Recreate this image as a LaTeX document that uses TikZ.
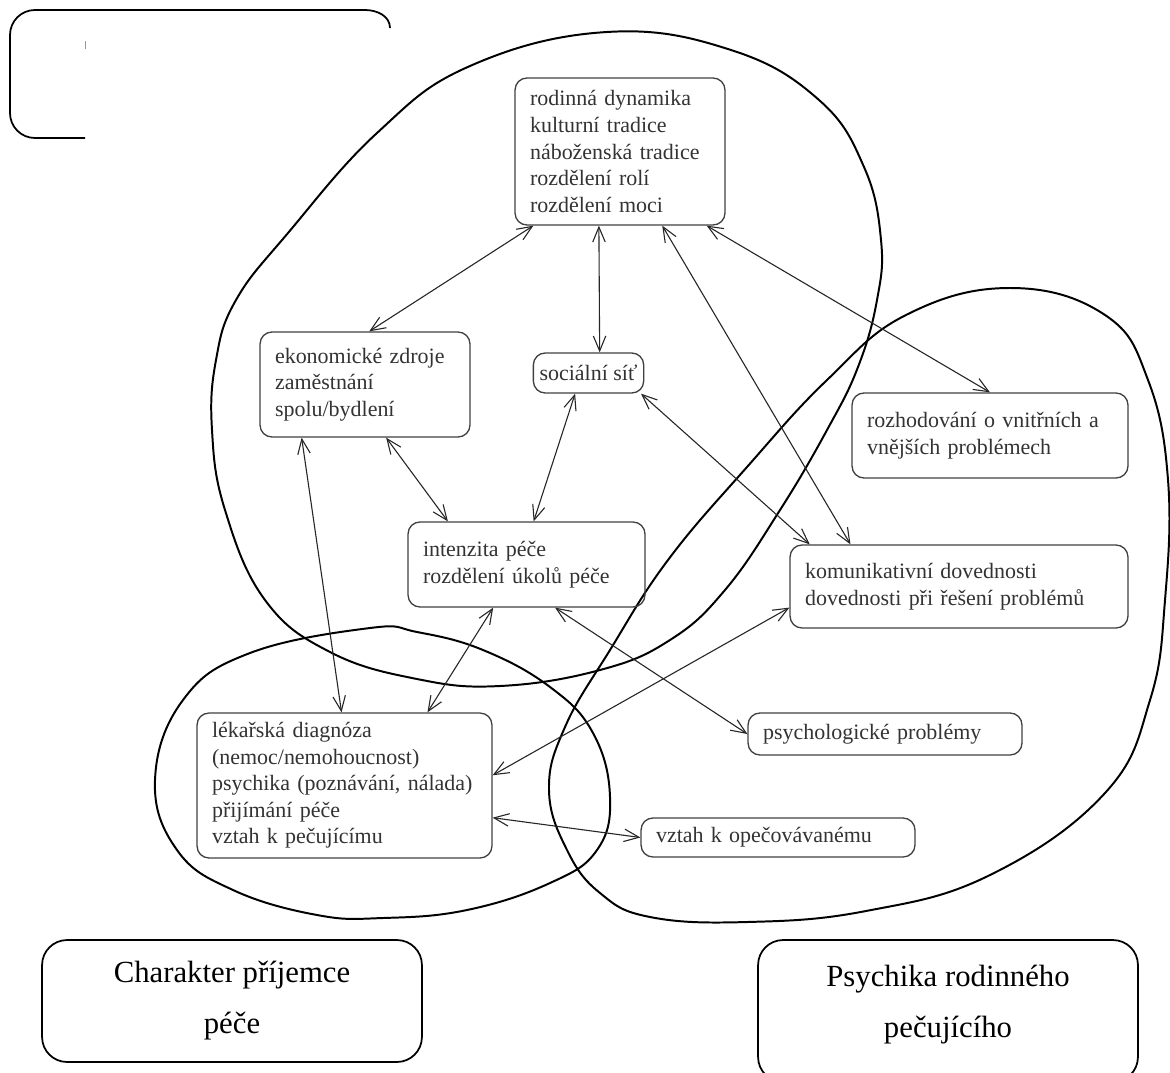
\documentclass[tikz,border=0pt]{standalone}
\usepackage{fontspec}
\setmainfont{Liberation Serif}
\usetikzlibrary{arrows.meta,calc}
\begin{document}
\begin{tikzpicture}[x=0.016cm,y=-0.016cm,
  box/.style={draw=black!75,line width=0.6pt,rounded corners=0.19cm,align=left,inner xsep=0.24cm,inner ysep=0pt,text=black!80,font=\fontsize{10}{12.1}\selectfont},
  bigbox/.style={draw,line width=0.8pt,rounded corners=0.4cm,align=center,minimum width=6.08cm,minimum height=1.952cm,font=\fontsize{14}{23.2}\selectfont},
  link/.style={<->,line width=0.5pt,black!85},
  blob/.style={line width=0.9pt},
  >={Straight Barb[length=2.4mm,width=2mm]}]
\useasboundingbox (0,0) rectangle (1170,1072);
\draw[blob] plot[smooth cycle,tension=0.7] coordinates {(607,32) (731,50) (819,100) (864,167) (881,240) (877,300) (858,367) (827,430) (780,510) (725,590) (670,640) (600,670) (500,686) (417,679) (330,652) (265,600) (225,510) (212,430) (216,360) (236,300) (288,233) (377,133) (470,66)};
\draw[blob] plot[smooth cycle,tension=0.7] coordinates {(370,628) (417,632) (483,650) (550,687) (593,733) (610,797) (597,850) (550,883) (467,910) (383,918) (317,915) (233,890) (177,850) (155,780) (183,700) (250,653)};
\draw[blob] plot[smooth cycle,tension=0.7] coordinates {(1010,288) (1105,315) (1148,380) (1168,480) (1165,600) (1150,700) (1105,793) (990,875) (866,911) (747,922) (650,917) (600,893) (567,850) (549,790) (565,727) (610,650) (668,560) (747,467) (827,380) (906,315)};
\draw[line width=0.8pt] (85,138) -- (35,138) to[out=180,in=-90] (10,113) -- (10,35) to[out=90,in=180] (35,10) -- (365,10) to[out=0,in=90] (390,28);
\draw[black!40,line width=0.4pt] (85,41) -- (85,49);
\node[box,text width=2.88cm,minimum height=2.352cm] (rod) at (620,151.5) {rodinná dynamika\\kulturní tradice\\náboženská tradice\\rozdělení rolí\\rozdělení moci};
\node[box,text width=2.88cm,minimum height=1.68cm] (eko) at (365,384.5) {ekonomické zdroje\\zaměstnání\\spolu/bydlení};
\node[box,inner xsep=0.1cm,minimum width=1.712cm,minimum height=0.64cm] (soc) at (588.5,373) {sociální síť};
\node[box,text width=3.936cm,minimum height=1.36cm] (roz) at (990,435.5) {rozhodování o vnitřních a\\vnějších problémech};
\node[box,text width=3.312cm,minimum height=1.36cm] (int) at (526.5,564.5) {intenzita péče\\rozdělení úkolů péče};
\node[box,text width=4.928cm,minimum height=1.328cm] (kom) at (959,586.5) {komunikativní dovednosti\\dovednosti při řešení problémů};
\node[box,text width=3.904cm,minimum height=0.672cm] (psy) at (885,734) {psychologické problémy};
\node[box,text width=4.24cm,minimum height=2.32cm] (lek) at (344.5,785.5) {lékařská diagnóza\\(nemoc/nemohoucnost)\\psychika (poznávání, nálada)\\přijímání péče\\vztah k pečujícímu};
\node[box,text width=3.904cm,minimum height=0.624cm] (vzt) at (778,837.5) {vztah k opečovávanému};
\node[bigbox] (char) at (232,1001) {Charakter příjemce\\péče};
\node[bigbox,minimum height=2.272cm] (psych) at (948,1011) {Psychika rodinného\\pečujícího\rule[-0.32cm]{0pt}{0pt}};
\draw[link] ($(rod.south west)!0.09!(rod.south east)$) -- ($(eko.north west)!0.52!(eko.north east)$);
\draw[link] ($(rod.south west)!0.4!(rod.south east)$) -- ($(soc.north west)!0.6!(soc.north east)$);
\draw[link] ($(rod.south west)!0.7!(rod.south east)$) -- ($(kom.north west)!0.18!(kom.north east)$);
\draw[link] ($(rod.south west)!0.91!(rod.south east)$) -- ($(roz.north west)!0.5!(roz.north east)$);
\draw[link] ($(eko.south west)!0.2!(eko.south east)$) -- ($(lek.north west)!0.49!(lek.north east)$);
\draw[link] ($(eko.south west)!0.6!(eko.south east)$) -- ($(int.north west)!0.17!(int.north east)$);
\draw[link] ($(soc.south west)!0.38!(soc.south east)$) -- ($(int.north west)!0.53!(int.north east)$);
\draw[link] ($(soc.south west)!0.97!(soc.south east)$) -- ($(kom.north west)!0.06!(kom.north east)$);
\draw[link] ($(int.south west)!0.36!(int.south east)$) -- ($(lek.north west)!0.78!(lek.north east)$);
\draw[link] ($(int.south west)!0.62!(int.south east)$) -- (psy.west);
\draw[link] ($(kom.north west)!0.75!(kom.south west)$) -- ($(lek.north east)!0.43!(lek.south east)$);
\draw[link] ($(lek.north east)!0.72!(lek.south east)$) -- (vzt.west);
\end{tikzpicture}
\end{document}
